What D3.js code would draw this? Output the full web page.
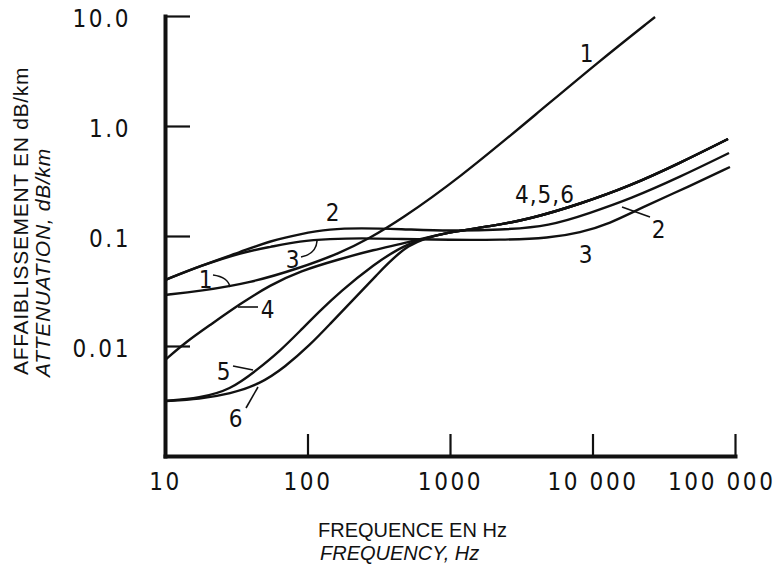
<!DOCTYPE html>
<html><head><meta charset="utf-8">
<script src="https://cdn.jsdelivr.net/npm/d3@7"></script>
<style>
body{margin:0;background:#fff;}
svg{display:block;}
.num{font-family:"Liberation Sans Narrow","Arial Narrow","DejaVu Sans Condensed",sans-serif;font-size:24px;letter-spacing:2.6px;fill:#111;}
.lbl{font-family:"Liberation Sans Narrow","Arial Narrow","DejaVu Sans Condensed",sans-serif;font-size:24px;letter-spacing:1px;fill:#111;}
.ttl{font-family:"Liberation Sans",Arial,sans-serif;font-size:21px;fill:#111;}
</style></head><body>
<svg id="c" width="778" height="573"></svg>
<script>
// ---- data ----
const xTickValues=[10,100,1000,10000,100000];
const xTickLabels=["10","100","1000","10 000","100 000"];
const yTickValues=[10,1,0.1,0.01];
const yTickLabels=["10.0","1.0","0.1","0.01"];

const curve1Freq=[10,17.6,39.5,88.6,169,275,446,1120,4280,10760,27470];
const curve1Atten=[0.0291,0.0316,0.0374,0.0512,0.070,0.0959,0.140,0.323,1.37,3.74,9.8];

const curve2Freq=[10,17.6,35.2,54.6,88.6,144,234,446,1000,2240,5030,9600,18330,41100,90800];
const curve2Atten=[0.0398,0.0534,0.0730,0.0901,0.1043,0.1158,0.118,0.1158,0.111,0.1134,0.123,0.162,0.217,0.344,0.568];

const curve3Freq=[10,17.6,35.2,54.6,88.6,144,234,446,1000,2240,5030,8170,13270,21540,48300,92200];
const curve3Atten=[0.0398,0.0534,0.0715,0.0794,0.0901,0.0939,0.0959,0.0939,0.0920,0.0920,0.0959,0.107,0.130,0.178,0.285,0.424];

const curve4Freq=[10,14.3,20.7,33.6,54.6,88.6,169,288,499];
const curve4Atten=[0.00746,0.0111,0.0155,0.0241,0.0358,0.0481,0.0618,0.0746,0.087];

const curve5Freq=[10,17.6,28.6,44.2,64.1,88.6,122,169,288,499];
const curve5Atten=[0.00316,0.00337,0.00398,0.00605,0.0090,0.01368,0.0208,0.0310,0.0545,0.087];

const curve6Freq=[10,17.6,28.6,46.4,69.5,104,144,199,298,499];
const curve6Atten=[0.00316,0.00330,0.00366,0.00451,0.00644,0.0102,0.01585,0.0246,0.0424,0.087];

// common high-frequency part of curves 4, 5 and 6
const tail456Freq=[968,1910,3640,8170,18330,41100,89300];
const tail456Atten=[0.1087,0.122,0.1427,0.1954,0.285,0.461,0.762];

const curveNames=["1","2","3","4","5","6"];

// ---- chart ----
const svg=d3.select("#c");
const x=d3.scaleLog().domain([10,100000]).range([165,735]);
const y=d3.scaleLog().domain([0.001,10]).range([456,16]);

const zip=(f,v)=>f.map((d,i)=>({f:d,v:v[i]}));
const series=[
  zip(curve1Freq,curve1Atten),
  zip(curve2Freq,curve2Atten),
  zip(curve3Freq,curve3Atten),
  zip(curve4Freq.concat(tail456Freq),curve4Atten.concat(tail456Atten)),
  zip(curve5Freq.concat(tail456Freq),curve5Atten.concat(tail456Atten)),
  zip(curve6Freq.concat(tail456Freq),curve6Atten.concat(tail456Atten))
];

const line=d3.line().x(d=>x(d.f)).y(d=>y(d.v)).curve(d3.curveBasis);
svg.append("g").selectAll("path").data(series).join("path")
  .attr("d",line).attr("fill","none").attr("stroke","#111").attr("stroke-width",2.4)
  .attr("data-name",(d,i)=>curveNames[i]);

// axes
const yAxis=svg.append("g").attr("transform","translate(165,0)")
  .call(d3.axisLeft(y).tickValues(yTickValues)
    .tickFormat(d=>yTickLabels[yTickValues.indexOf(d)])
    .tickSize(-25).tickSizeOuter(0).tickPadding(34));
const xAxis=svg.append("g").attr("transform","translate(0,456)")
  .call(d3.axisBottom(x).tickValues(xTickValues)
    .tickFormat(d=>xTickLabels[xTickValues.indexOf(d)])
    .tickSize(-22).tickSizeOuter(0).tickPadding(17));
[yAxis,xAxis].forEach(g=>{
  g.attr("font-family",null).attr("font-size",null);
  g.select(".domain").attr("stroke","#111").attr("stroke-width",4).attr("stroke-linecap","square");
  g.selectAll(".tick line").attr("stroke","#111").attr("stroke-width",2.2);
  g.selectAll(".tick text").attr("class","num");
});
yAxis.selectAll(".tick text").attr("dy","0.45em");
// the last frequency label sits left-shifted so it ends near the page edge, as in the original
xAxis.selectAll(".tick text").filter(d=>d===100000).attr("text-anchor","end").attr("x",40);

// axis titles
svg.append("text").attr("class","ttl").attr("transform","translate(28,375) rotate(-90)")
  .style("letter-spacing","0.7px").text("AFFAIBLISSEMENT EN dB/km");
svg.append("text").attr("class","ttl").attr("transform","translate(50,377) rotate(-90)")
  .style("letter-spacing","0.7px").style("font-style","italic").text("ATTENUATION, dB/km");
svg.append("text").attr("class","ttl").attr("x",318).attr("y",537).style("font-size","20px").text("FREQUENCE EN Hz");
svg.append("text").attr("class","ttl").attr("x",320).attr("y",560).style("font-size","20px").style("font-style","italic").text("FREQUENCY, Hz");

// curve labels
const labels=[
  {t:"1",x:587,y:62,a:"middle"},
  {t:"2",x:333,y:221,a:"middle"},
  {t:"3",x:293,y:268,a:"middle"},
  {t:"1",x:206,y:288,a:"middle"},
  {t:"4",x:268,y:318,a:"middle"},
  {t:"5",x:224,y:380,a:"middle"},
  {t:"6",x:236,y:427,a:"middle"},
  {t:"4,5,6",x:515,y:203,a:"start"},
  {t:"2",x:659,y:238,a:"middle"},
  {t:"3",x:586,y:263,a:"middle"}
];
svg.append("g").selectAll("text").data(labels).join("text")
  .attr("class","lbl").attr("x",d=>d.x).attr("y",d=>d.y).attr("text-anchor",d=>d.a).text(d=>d.t);

const leaders=[
  "M213,275 Q228,277 230,287",
  "M301,257 Q316,254 317,241",
  "M238,307 L258,307",
  "M233,366 L253,370",
  "M246,408 L258,387",
  "M622,207 L650,217"
];
svg.append("g").selectAll("path").data(leaders).join("path")
  .attr("d",d=>d).attr("fill","none").attr("stroke","#111").attr("stroke-width",1.6);
</script>
</body></html>
